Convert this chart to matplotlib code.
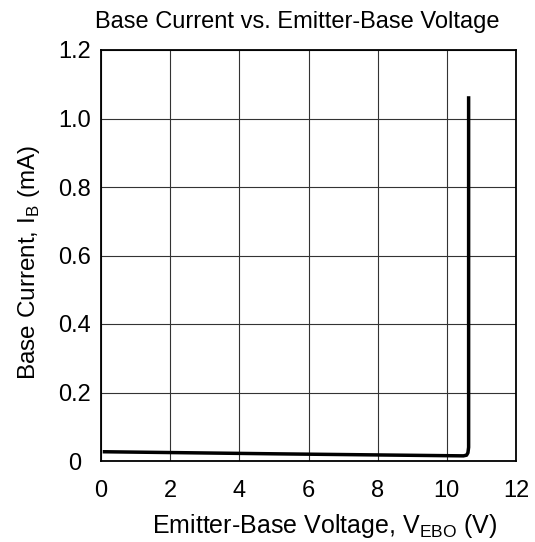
import matplotlib
matplotlib.use("Agg")
from matplotlib import pyplot as plt

plt.rcParams['font.family'] = ['Liberation Sans', 'DejaVu Sans']
plt.rcParams['mathtext.fontset'] = 'custom'
plt.rcParams['mathtext.rm'] = 'Liberation Sans'

# curve
voltage = [0.1, 5.0, 10.48, 10.57, 10.61, 10.63, 10.63]
current = [0.027, 0.021, 0.015, 0.017, 0.024, 0.04, 1.06]

xticks = [0, 2, 4, 6, 8, 10, 12]
yticks = [0, 0.2, 0.4, 0.6, 0.8, 1.0, 1.2]
ytick_labels = ["0", "0.2", "0.4", "0.6", "0.8", "1.0", "1.2"]

fig = plt.figure(figsize=(5.35, 5.42), dpi=100)
ax = fig.add_axes([101/535, 1 - 461/542, 415/535, 411/542])

ax.plot(voltage, current, color="black", linewidth=2.5, solid_joinstyle="round")

ax.set_xlim(0, 12)
ax.set_ylim(0, 1.2)
ax.set_xticks(xticks)
ax.set_yticks(yticks)
ax.set_yticklabels(ytick_labels, ha="center")
ax.grid(True, color="#333333", linewidth=0.8)
ax.tick_params(length=0, labelsize=17)
ax.tick_params(axis="x", pad=14)
ax.tick_params(axis="y", pad=19)
for s in ax.spines.values():
    s.set_linewidth(1.3)

ax.set_title("Base Current vs. Emitter-Base Voltage", fontsize=17, pad=16, x=0.472)
ax.set_xlabel("Emitter-Base Voltage, V$_{\\mathregular{EBO}}$ (V)", fontsize=18, labelpad=6)
ax.xaxis.set_label_coords(0.54, -0.125)
ax.set_ylabel("Base Current, I$_{\\mathregular{B}}$ (mA)", fontsize=17.5)
ax.yaxis.set_label_coords(-0.142, 0.482)

fig.savefig("out.png", dpi=100)
